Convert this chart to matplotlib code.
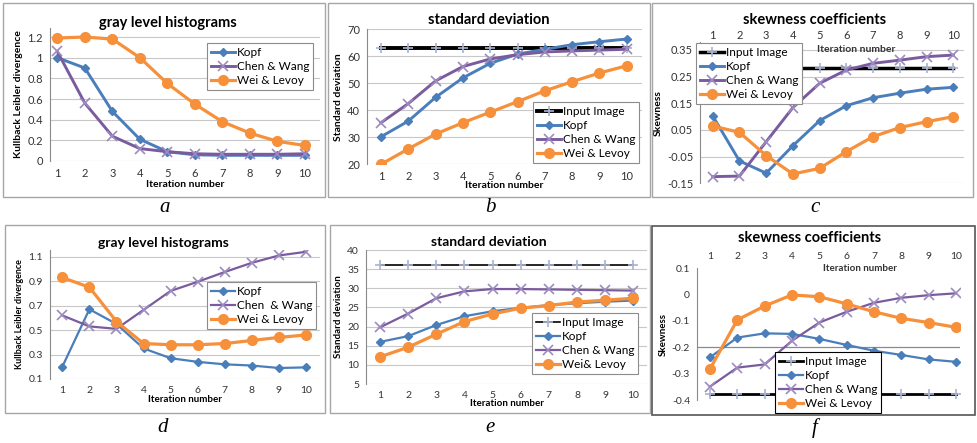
import numpy as np
import matplotlib.pyplot as plt
from matplotlib.patches import Rectangle

iters = np.arange(1, 11)

# a: gray level histograms (KL divergence)
a_kopf = [1.0, 0.9, 0.48, 0.21, 0.09, 0.06, 0.055, 0.055, 0.055, 0.055]
a_chen = [1.06, 0.56, 0.24, 0.12, 0.09, 0.07, 0.065, 0.065, 0.065, 0.07]
a_wei = [1.19, 1.2, 1.18, 1.0, 0.75, 0.55, 0.38, 0.27, 0.19, 0.15]

# b: standard deviation
b_input = [63] * 10
b_kopf = [30.2, 36, 44.8, 52, 57.4, 60.8, 62.6, 64.3, 65.4, 66.4]
b_chen = [35.4, 42.5, 50.9, 56.2, 59, 60.6, 61.6, 62, 62.3, 62.6]
b_wei = [20, 25.7, 31.2, 35.4, 39.3, 43.2, 47.2, 50.6, 53.8, 56.5]

# c: skewness coefficients
c_input = [0.281] * 10
c_kopf = [0.103, -0.066, -0.112, -0.009, 0.085, 0.141, 0.171, 0.188, 0.203, 0.21]
c_chen = [-0.125, -0.123, 0.006, 0.134, 0.225, 0.275, 0.30, 0.312, 0.325, 0.331]
c_wei = [0.065, 0.041, -0.046, -0.115, -0.094, -0.031, 0.025, 0.059, 0.081, 0.10]

# d: gray level histograms
d_kopf = [0.2, 0.67, 0.55, 0.35, 0.27, 0.24, 0.22, 0.21, 0.19, 0.195]
d_chen = [0.62, 0.53, 0.51, 0.665, 0.82, 0.895, 0.975, 1.05, 1.11, 1.14]
d_wei = [0.93, 0.85, 0.57, 0.39, 0.38, 0.38, 0.39, 0.415, 0.44, 0.46]

# e: standard deviation
e_input = [36.2] * 10
e_kopf = [16.0, 17.5, 20.4, 22.7, 24.0, 24.9, 25.6, 26.1, 26.5, 26.8]
e_chen = [19.8, 23.4, 27.4, 29.2, 29.8, 29.8, 29.7, 29.6, 29.5, 29.4]
e_wei = [12.1, 14.6, 18.0, 21.3, 23.3, 24.8, 25.5, 26.4, 26.9, 27.4]

# f: skewness coefficients
f_input = [-0.378] * 10
f_kopf = [-0.238, -0.163, -0.147, -0.149, -0.168, -0.191, -0.213, -0.229, -0.246, -0.255]
f_chen = [-0.349, -0.277, -0.265, -0.175, -0.106, -0.065, -0.031, -0.012, -0.002, 0.005]
f_wei = [-0.282, -0.096, -0.043, -0.001, -0.008, -0.035, -0.065, -0.09, -0.106, -0.124]

KOPF = '#4a7ebb'
CHEN = '#7a5c9e'
CHEN_M = '#9c8bc0'
WEI = '#f7903a'
INPUT_M = '#a8b3cf'
GRID = '#c8c8c8'
AXIS = '#8a8a8a'

plt.rcParams['font.family'] = ['Lato', 'DejaVu Sans']

W, H = 978, 443
fig = plt.figure(figsize=(W / 100, H / 100), dpi=100)


def px_axes(left, top, right, bottom, p1, p10, v_lo, px_lo, v_hi, px_hi):
    ax = fig.add_axes([left / W, 1 - bottom / H, (right - left) / W, (bottom - top) / H])
    sx = (p10 - p1) / 9
    ax.set_xlim(1 - (p1 - left) / sx, 10 + (right - p10) / sx)
    sy = (px_lo - px_hi) / (v_hi - v_lo)
    ax.set_ylim(v_lo - (bottom - px_lo) / sy, v_hi + (px_hi - top) / sy)
    return ax


def frame(x0, y0, x1, y1, color='#a6a6a6', lw=1.0):
    fig.patches.append(Rectangle((x0 / W, 1 - y1 / H), (x1 - x0) / W, (y1 - y0) / H,
                                 transform=fig.transFigure, fill=False,
                                 edgecolor=color, linewidth=lw))


def title(text, x, y, size=10.5):
    fig.text(x / W, 1 - y / H, text, fontsize=size, fontweight='bold',
             ha='center', va='center')


def style(ax, yticks, fmt, grid=True, top_ticks=False, tsize=8, xpad=5):
    ax.set_xticks(iters)
    ax.set_yticks(yticks)
    ax.set_yticklabels([fmt(v) for v in yticks])
    for s in ['top', 'right', 'bottom']:
        ax.spines[s].set_visible(False)
    ax.spines['left'].set_color(AXIS)
    ax.spines['left'].set_linewidth(0.8)
    if grid:
        for v in yticks:
            ax.axhline(v, color=GRID, lw=0.8, zorder=0)
    ax.tick_params(axis='both', length=0, labelsize=tsize, colors='#333333', pad=5)
    ax.tick_params(axis='x', pad=xpad)
    if top_ticks:
        ax.xaxis.tick_top()
    ax.set_facecolor('none')


def plot_series(ax, kopf, chen, wei, inp=None, lw_in=2.5, small=False):
    hs = []
    if inp is not None:
        h, = ax.plot(iters, inp, color='black', lw=lw_in, marker='+', ms=7,
                     mec=INPUT_M, mew=1.2, label='Input Image', zorder=2)
        hs.append(h)
    lw = 1.6 if small else 2.1
    h1, = ax.plot(iters, kopf, color=KOPF, lw=lw, marker='D', ms=4.5,
                  mfc=KOPF, mec=KOPF, label='Kopf', zorder=3)
    h2, = ax.plot(iters, chen, color=CHEN, lw=lw, marker='x', ms=7,
                  mec=CHEN_M, mew=1.2, label='Chen & Wang', zorder=3)
    h3, = ax.plot(iters, wei, color=WEI, lw=2.3, marker='o', ms=7,
                  mfc=WEI, mec=WEI, label='Wei & Levoy', zorder=3)
    return hs + [h1, h2, h3]


def legend(ax, handles, x, y, size=8.5, labels=None, edge='#8c8c8c'):
    lg = ax.legend(handles=handles, labels=labels, loc='upper left',
                   bbox_to_anchor=(x / W, 1 - y / H), bbox_transform=fig.transFigure,
                   fancybox=False, framealpha=1, edgecolor=edge, fontsize=size,
                   borderpad=0.35, labelspacing=0.25, handletextpad=0.15,
                   handlelength=2.0, borderaxespad=0)
    lg.get_frame().set_linewidth(0.8)
    lg.set_zorder(10)
    return lg


f1 = lambda v: ('%g' % v)
f2 = lambda v: ('%.2f' % v)

# ---------------- a ----------------
ax = px_axes(50, 28, 320, 161, 57.3, 305, 0, 161, 1.2, 37)
style(ax, [0, 0.2, 0.4, 0.6, 0.8, 1.0, 1.2], f1)
hs = plot_series(ax, a_kopf, a_chen, a_wei)
title('gray level histograms', 168, 23)
ax.set_xlabel('Iteration number', fontsize=7.5, fontweight='bold', labelpad=1)
ax.set_ylabel('Kullback Leibler divergence', fontsize=7.5, fontweight='bold', labelpad=3)
legend(ax, hs, 207, 43)

# ---------------- b ----------------
ax = px_axes(367, 29, 642, 164.3, 381, 626.7, 20, 164.3, 70, 29.3)
style(ax, [20, 30, 40, 50, 60, 70], f1)
hs = plot_series(ax, b_kopf, b_chen, b_wei, inp=b_input, lw_in=2.8)
title('standard deviation', 489, 20)
ax.set_xlabel('Iteration number', fontsize=7.5, fontweight='bold', labelpad=-1)
ax.set_ylabel('Standard deviation', fontsize=7.5, fontweight='bold', labelpad=3)
legend(ax, hs, 533, 102)

# ---------------- c ----------------
ax = px_axes(700, 42, 964, 183.3, 712.7, 953.3, -0.15, 183.3, 0.35, 50)
style(ax, [-0.15, -0.05, 0.05, 0.15, 0.25, 0.35], f2, top_ticks=True, xpad=1)
hs = plot_series(ax, c_kopf, c_chen, c_wei, inp=c_input, lw_in=2.5)
title('skewness coefficients', 815, 20)
ax.text(6.35, 0.352, 'Iteration number', fontsize=7.5, fontweight='bold',
        ha='center', va='center', color='#333333', zorder=1)
ax.set_ylabel('Skewness', fontsize=7.5, fontweight='bold', labelpad=3)
legend(ax, hs, 696, 43)

# ---------------- d ----------------
ax = px_axes(50, 250, 320, 379, 62.3, 306, 0.1, 379, 1.1, 256.7)
style(ax, [0.1, 0.3, 0.5, 0.7, 0.9, 1.1], f1, tsize=7.5)
hs = plot_series(ax, d_kopf, d_chen, d_wei, small=True)
title('gray level histograms', 163, 243, size=10)
ax.set_xlabel('Iteration number', fontsize=7, fontweight='bold', labelpad=0)
ax.set_ylabel('Kullback Leibler divergence', fontsize=6.5, fontweight='bold', labelpad=3)
legend(ax, hs, 207, 282, size=8.5, labels=['Kopf', 'Chen  & Wang', 'Wei & Levoy'])

# ---------------- e ----------------
ax = px_axes(366, 250, 647, 384, 380, 633.3, 5, 384, 40, 250)
style(ax, [5, 10, 15, 20, 25, 30, 35, 40], f1, tsize=7.5)
hs = plot_series(ax, e_kopf, e_chen, e_wei, inp=e_input, lw_in=1.2, small=True)
title('standard deviation', 489, 242, size=10)
ax.set_xlabel('Iteration number', fontsize=7, fontweight='bold', labelpad=-1)
ax.set_ylabel('Standard deviation', fontsize=7, fontweight='bold', labelpad=3)
legend(ax, hs, 532, 313, labels=['Input Image', 'Kopf', 'Chen & Wang', 'Wei& Levoy'])

# ---------------- f ----------------
ax = px_axes(697, 268, 960, 400, 710, 956, -0.4, 400, 0.1, 268.3)
style(ax, [-0.4, -0.3, -0.2, -0.1, 0, 0.1], f1, grid=False, top_ticks=True, tsize=7.5)
ax.axhline(-0.2, color='#8a8a8a', lw=0.9, zorder=0)
hs = plot_series(ax, f_kopf, f_chen, f_wei, inp=f_input, lw_in=2.0, small=True)
title('skewness coefficients', 810, 238)
ax.text(6.5, 0.1, 'Iteration number', fontsize=7, fontweight='bold',
        ha='center', va='center', color='#333333', zorder=1)
ax.set_ylabel('Skewness', fontsize=7, fontweight='bold', labelpad=3)
legend(ax, hs, 775, 352, edge='black')

# panel frames
frame(3, 3, 325, 197)
frame(328, 3, 650, 197)
frame(652, 3, 973, 197)
frame(5, 225, 325, 413)
frame(330, 225, 650, 413)
frame(652, 226, 975, 415, color='#555555', lw=1.2)

# sub-figure letters
for lab, x, y in [('a', 165, 208), ('b', 490, 208), ('c', 815, 208),
                  ('d', 163, 428), ('e', 490, 428), ('f', 815, 428)]:
    fig.text(x / W, 1 - y / H, lab, fontsize=15, style='italic',
             family='Liberation Serif', ha='center', va='center')

fig.savefig('out.png', dpi=100)
